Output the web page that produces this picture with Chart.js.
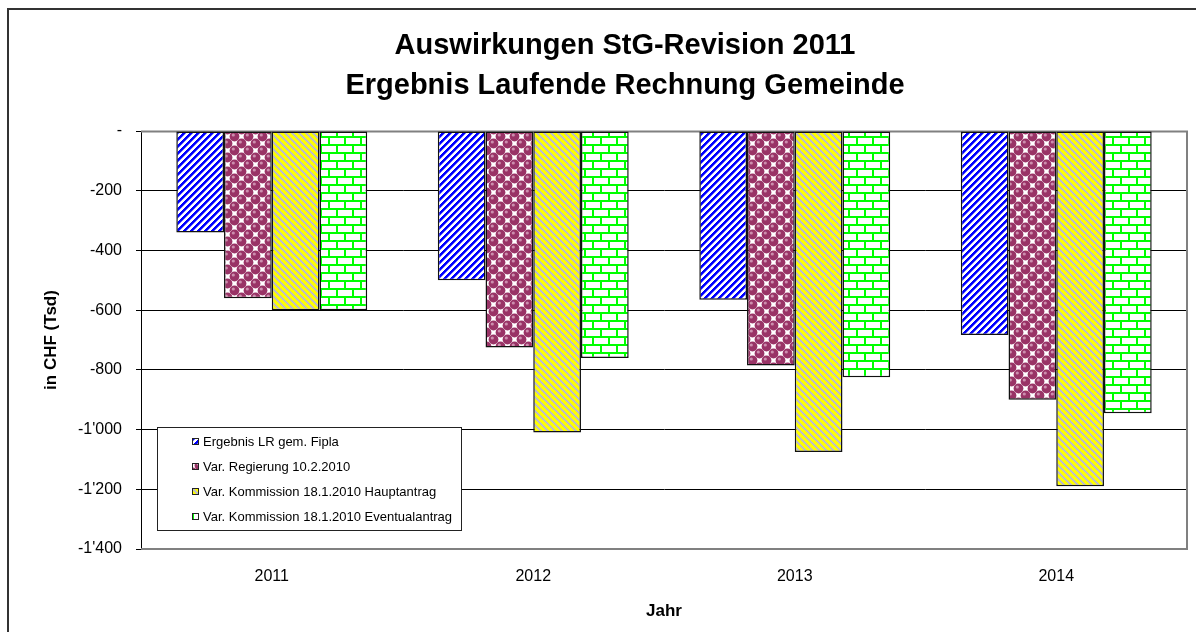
<!DOCTYPE html>
<html>
<head>
<meta charset="utf-8">
<script src="https://cdn.jsdelivr.net/npm/chart.js@4.4.1/dist/chart.umd.min.js"></script>
<style>
  html, body { margin: 0; padding: 0; background: #ffffff; }
  #wrap { position: relative; width: 1196px; height: 632px; overflow: hidden; }
  canvas { display: block; }
</style>
</head>
<body>
<div id="wrap"><canvas id="c" width="1196" height="632"></canvas></div>
<script>
// ---- data ----
const categories = ['2011', '2012', '2013', '2014'];
const ergebnisFipla = [-340, -500, -565, -683];
const regierung = [-560, -725, -785, -900];
const hauptantrag = [-600, -1010, -1075, -1190];
const eventualantrag = [-600, -760, -825, -945];
const seriesNames = [
  'Ergebnis LR gem. Fipla',
  'Var. Regierung 10.2.2010',
  'Var. Kommission 18.1.2010 Hauptantrag',
  'Var. Kommission 18.1.2010 Eventualantrag'
];
const titleLines = ['Auswirkungen StG-Revision 2011', 'Ergebnis Laufende Rechnung Gemeinde'];
const yTitle = 'in CHF (Tsd)';
const xTitle = 'Jahr';

// ---- patterns ----
function makeTile(w, h, painter) {
  const c = document.createElement('canvas');
  c.width = w; c.height = h;
  const g = c.getContext('2d');
  g.fillStyle = '#ffffff';
  g.fillRect(0, 0, w, h);
  painter(g, w, h);
  return document.getElementById('c').getContext('2d').createPattern(c, 'repeat');
}
const patBlue = makeTile(7, 7, (g, w, h) => {
  for (let y = 0; y < h; y++) for (let x = 0; x < w; x++) {
    const k = (x + y) % 7;
    if (k < 3) { g.fillStyle = '#0000ff'; g.fillRect(x, y, 1, 1); }
    else if (k === 3) { g.fillStyle = '#7070ff'; g.fillRect(x, y, 1, 1); }
  }
});
const patYellow = makeTile(7, 7, (g, w, h) => {
  for (let y = 0; y < h; y++) for (let x = 0; x < w; x++) {
    const k = ((x - y) % 7 + 7) % 7;
    g.fillStyle = k < 4 ? '#ffff00' : '#c0c0c0';
    g.fillRect(x, y, 1, 1);
  }
});
const patMaroon = makeTile(14, 14, (g, w, h) => {
  const base = [[3.5, 3.5], [10.5, 10.5]];
  const centers = [];
  base.forEach(([cx, cy]) => {
    for (let dx = -14; dx <= 14; dx += 14) for (let dy = -14; dy <= 14; dy += 14) centers.push([cx + dx, cy + dy]);
  });
  g.fillStyle = '#993366';
  centers.forEach(([cx, cy]) => { g.beginPath(); g.arc(cx, cy, 4.9, 0, Math.PI * 2); g.fill(); });
  g.fillStyle = '#cc8fae';
  centers.forEach(([cx, cy]) => { g.beginPath(); g.arc(cx - 1.2, cy - 1.5, 1.6, 0, Math.PI * 2); g.fill(); });
});
const patGreen = makeTile(16, 16, (g, w, h) => {
  g.fillStyle = '#00ff00';
  g.fillRect(0, 0, 16, 2);
  g.fillRect(0, 8, 16, 2);
  g.fillRect(0, 0, 2, 8);
  g.fillRect(8, 8, 2, 8);
});
const patterns = [patBlue, patMaroon, patYellow, patGreen];

function fmt(v) {
  if (v === 0) return '-';
  const s = Math.abs(v).toString().replace(/\B(?=(\d{3})+(?!\d))/g, "'");
  return (v < 0 ? '-' : '') + s;
}

const FONT = "'Liberation Sans', Arial, sans-serif";

const decorPlugin = {
  id: 'decor',
  beforeDraw(chart) {
    const ctx = chart.ctx;
    ctx.save();
    ctx.fillStyle = '#ffffff';
    ctx.fillRect(0, 0, chart.width, chart.height);
    ctx.restore();
  },
  beforeDatasetsDraw(chart) {
    const ctx = chart.ctx;
    const a = chart.chartArea;
    ctx.save();
    ctx.strokeStyle = '#808080';
    ctx.lineWidth = 2;
    ctx.beginPath();
    ctx.moveTo(a.left, a.top + 0.5);
    ctx.lineTo(a.right, a.top + 0.5);
    ctx.lineTo(a.right, a.bottom);
    ctx.lineTo(a.left, a.bottom);
    ctx.stroke();
    ctx.restore();
  },
  afterDraw(chart) {
    const ctx = chart.ctx;
    ctx.save();
    // outer frame
    ctx.strokeStyle = '#333333';
    ctx.lineWidth = 2;
    ctx.beginPath();
    ctx.moveTo(8, chart.height + 2);
    ctx.lineTo(8, 9);
    ctx.lineTo(chart.width + 2, 9);
    ctx.stroke();
    // title
    ctx.fillStyle = '#000000';
    ctx.textAlign = 'center';
    ctx.textBaseline = 'middle';
    ctx.font = "bold 29px " + FONT;
    ctx.fillText(titleLines[0], 625, 46);
    ctx.fillText(titleLines[1], 625, 86);
    // legend
    const lx = 157, ly = 427, lw = 304, lh = 103;
    ctx.fillStyle = '#ffffff';
    ctx.fillRect(lx, ly, lw, lh);
    ctx.strokeStyle = '#222222';
    ctx.lineWidth = 1;
    ctx.strokeRect(lx + 0.5, ly + 0.5, lw, lh);
    ctx.font = "13px " + FONT;
    ctx.textAlign = 'left';
    ctx.textBaseline = 'middle';
    chart.data.datasets.forEach((ds, i) => {
      const cy = 442 + i * 25;
      ctx.fillStyle = ds.backgroundColor;
      ctx.fillRect(192, cy - 4, 7, 7);
      ctx.strokeStyle = '#222222';
      ctx.strokeRect(192.5, cy - 3.5, 6, 6);
      ctx.fillStyle = '#000000';
      ctx.fillText(ds.label, 203, cy);
    });
    ctx.restore();
  }
};

const datasetsValues = [ergebnisFipla, regierung, hauptantrag, eventualantrag];

new Chart(document.getElementById('c'), {
  type: 'bar',
  data: {
    labels: categories,
    datasets: datasetsValues.map((vals, i) => ({
      label: seriesNames[i],
      data: vals,
      backgroundColor: patterns[i],
      borderColor: '#111111',
      borderWidth: 1.5,
      borderSkipped: false,
      barPercentage: 1.0,
      categoryPercentage: 0.73
    }))
  },
  options: {
    responsive: false,
    animation: false,
    layout: { padding: { top: 131, right: 9, left: 0, bottom: 0 } },
    plugins: {
      legend: { display: false },
      title: { display: false },
      tooltip: { enabled: false }
    },
    scales: {
      x: {
        afterFit(scale) { scale.height = 83; },
        grid: { display: false },
        border: { display: false },
        ticks: { color: '#000000', font: { family: FONT, size: 16 }, padding: 10 },
        title: { display: true, text: xTitle, color: '#000000', font: { family: FONT, size: 17, weight: 'bold' }, padding: { top: 0, bottom: 10 } }
      },
      y: {
        min: -1400,
        max: 0,
        afterFit(scale) { scale.width = 141; },
        ticks: { stepSize: 200, color: '#000000', font: { family: FONT, size: 16 }, padding: 14, callback: (v) => fmt(v) },
        grid: {
          color: (c) => (c.tick && (c.tick.value === 0 || c.tick.value === -1400)) ? 'rgba(0,0,0,0)' : '#000000',
          tickColor: '#000000',
          tickLength: 5,
          lineWidth: 1
        },
        border: { display: true, color: '#000000', width: 1 },
        title: { display: true, text: yTitle, color: '#000000', font: { family: FONT, size: 17, weight: 'bold' }, padding: { top: 41, bottom: 0 } }
      }
    }
  },
  plugins: [decorPlugin]
});
</script>
</body>
</html>
